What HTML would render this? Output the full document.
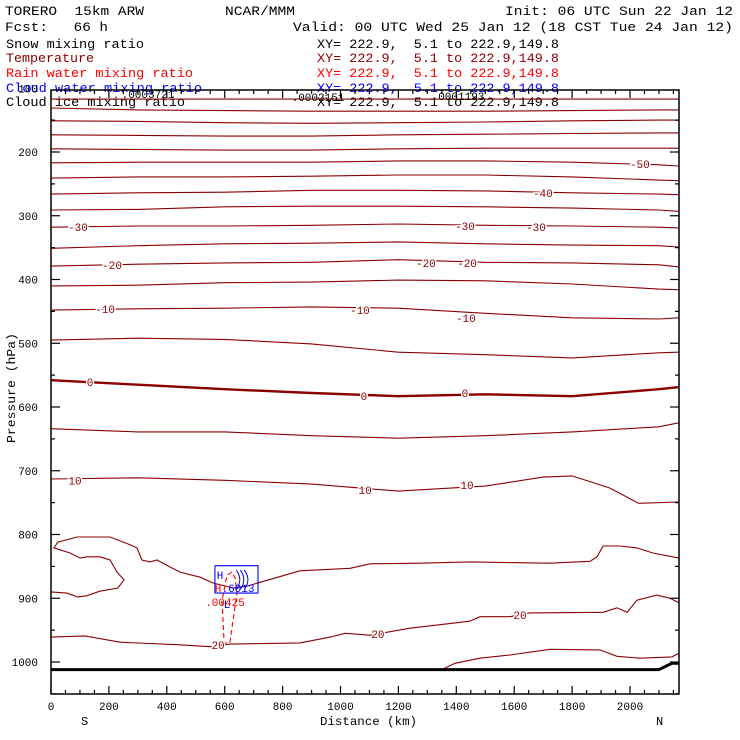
<!DOCTYPE html>
<html><head><meta charset="utf-8"><style>
html,body{margin:0;padding:0;background:#fff;}
svg{display:block;}
text{font-family:"Liberation Mono",monospace;}
</style></head><body>
<svg id="chart" width="740" height="740" viewBox="0 0 740 740" xmlns="http://www.w3.org/2000/svg">
<g font-size="13">
<text x="5" y="15" textLength="139" lengthAdjust="spacingAndGlyphs" xml:space="preserve">TORERO  15km ARW</text>
<text x="225" y="15" textLength="70" lengthAdjust="spacingAndGlyphs">NCAR/MMM</text>
<text x="505" y="15" textLength="228" lengthAdjust="spacingAndGlyphs">Init: 06 UTC Sun 22 Jan 12</text>
<text x="5" y="31" textLength="103" lengthAdjust="spacingAndGlyphs" xml:space="preserve">Fcst:   66 h</text>
<text x="293" y="31" textLength="440" lengthAdjust="spacingAndGlyphs">Valid: 00 UTC Wed 25 Jan 12 (18 CST Tue 24 Jan 12)</text>
</g>
<g font-size="13">
<text x="6" y="48" fill="#000" textLength="138" lengthAdjust="spacingAndGlyphs">Snow mixing ratio</text>
<text x="317" y="48" fill="#000" textLength="242" lengthAdjust="spacingAndGlyphs" xml:space="preserve">XY= 222.9,  5.1 to 222.9,149.8</text>
<text x="6" y="62" fill="#8b0000" textLength="88" lengthAdjust="spacingAndGlyphs">Temperature</text>
<text x="317" y="62" fill="#8b0000" textLength="242" lengthAdjust="spacingAndGlyphs" xml:space="preserve">XY= 222.9,  5.1 to 222.9,149.8</text>
<text x="6" y="77" fill="#ff0000" textLength="187" lengthAdjust="spacingAndGlyphs">Rain water mixing ratio</text>
<text x="317" y="77" fill="#ff0000" textLength="242" lengthAdjust="spacingAndGlyphs" xml:space="preserve">XY= 222.9,  5.1 to 222.9,149.8</text>
<text x="6" y="92" fill="#0000ff" textLength="196" lengthAdjust="spacingAndGlyphs">Cloud water mixing ratio</text>
<text x="317" y="92" fill="#0000ff" textLength="242" lengthAdjust="spacingAndGlyphs" xml:space="preserve">XY= 222.9,  5.1 to 222.9,149.8</text>
<text x="6" y="106" fill="#000" textLength="179" lengthAdjust="spacingAndGlyphs">Cloud ice mixing ratio</text>
<text x="317" y="106" fill="#000" textLength="242" lengthAdjust="spacingAndGlyphs" xml:space="preserve">XY= 222.9,  5.1 to 222.9,149.8</text>
</g>
<g id="plot"></g>
<text x="320" y="725" font-size="12" textLength="97" lengthAdjust="spacingAndGlyphs">Distance (km)</text>
<text x="81" y="725" font-size="12">S</text>
<text x="656" y="725" font-size="12">N</text>
<text transform="translate(15,443) rotate(-90)" font-size="12" textLength="110" lengthAdjust="spacingAndGlyphs">Pressure (hPa)</text>
</svg>
<script>
// ---- data (km along section, pressure hPa) ----
const gridKm = [0, 300, 600, 900, 1200, 1500, 1800, 2100, 2166];
const tempLevels = [-75, -70, -65, -60, -55, -50, -45, -40, -35, -30, -25, -20, -15, -10, -5, 0, 5];
const tempP = [
  [117,117,117,117,117,117,117,117,117],
  [131,134,135,136,136,136,135,134,134],
  [151,152,154,155,154,153,151,150,150],
  [173,174,175,175,173,172,171,170,170],
  [195,196,197,197,195,194,194,194,194],
  [217,216,216,216,214,214,216,220,222],
  [241,239,239,238,236,236,239,244,245],
  [266,264,263,260,260,261,264,266,267],
  [291,290,286,285,285,286,288,291,293],
  [318,316,316,315,313,315,316,318,319],
  [351,347,344,343,341,344,346,347,349],
  [379,376,374,373,369,373,374,377,380],
  [410,409,405,404,401,402,407,415,416],
  [448,446,445,443,445,453,460,462,460],
  [495,492,494,501,514,518,523,515,514],
  [558,565,572,578,583,580,583,572,569],
  [634,639,639,645,649,645,639,631,625]
];
const t10Km = [0,300,600,900,1200,1500,1700,1800,1930,2030,2166];
const t10P  = [713,711,715,721,732,724,710,708,727,751,749];
const t15Km = [0,55,93,124,169,231,252,228,204,169,124,100,66,10,24,90,204,273,297,314,342,366,411,446,515,560,629,677,722,860,1033,1102,1275,1447,1724,1862,1886,1907,1965,2024,2079,2169];
const t15P  = [890,892,898,896,889,884,871,859,840,835,835,837,829,821,812,804,804,816,821,840,843,840,851,859,867,876,884,881,875,857,853,846,845,843,845,842,835,818,818,821,829,837];
const t20Km = [0,117,238,446,549,618,860,964,1016,1102,1240,1447,1482,1585,1654,1907,1955,1990,2024,2093,2138,2169];
const t20P  = [961,959,969,973,976,972,970,961,955,958,947,936,929,929,923,922,915,922,903,895,900,907];
const t25Km = [1350,1395,1482,1585,1724,1896,1955,2034,2145,2169];
const t25P  = [1012,1002,994,989,980,981,991,994,992,986];
const groundKm = [0,2100,2145,2169];
const groundP  = [1012,1012,1002,1002];
const cwKm = [566,715,715,566,566];
const cwP  = [849,849,892,892,849];
const rainKm = [625,608,591,598,618,642,636,625];
const rainP  = [859,864,903,970,970,892,868,859];
const labelText = ["-50","-40","-30","-30","-30","-20","-20","-20","-10","-10","-10","0","0","0","10","10","10","20","20","20"];
const labelKm = [2034,1699,93,1430,1675,211,1295,1437,187,1067,1433,135,1081,1430,83,1085,1437,577,1129,1620];
const labelP  = [219,264,318,316,318,377,374,374,446,448,460,561,583,578,715,730,722,973,956,926];
const yTicks = [100,200,300,400,500,600,700,800,900,1000];
const xTicks = [0,200,400,600,800,1000,1200,1400,1600,1800,2000];

// ---- axes ----
const L=51,R=679,T=90,B=694;
const X = km => L + km*0.2895;
const Y = p => 662 - (1000-p)*0.6375;
const NS="http://www.w3.org/2000/svg";
const plot=document.getElementById('plot');
function mk(tag, attrs, parent){const e=document.createElementNS(NS,tag);for(const k in attrs)e.setAttribute(k,attrs[k]);(parent||plot).appendChild(e);return e;}
function pts(ks,ps){return ks.map((k,i)=>X(k).toFixed(1)+','+Y(ps[i]).toFixed(1)).join(' ');}

tempP.forEach((row,i)=>{
  const w = tempLevels[i]===0 ? 2.4 : 1.1;
  const e=mk('polyline',{points:pts(gridKm,row),fill:'none',stroke:'#8b0000','stroke-width':w});
  
  
});
[[t10Km,t10P,'10'],[t15Km,t15P,'15'],[t20Km,t20P,'20'],[t25Km,t25P,'25']].forEach(c=>{
  const e=mk('polyline',{points:pts(c[0],c[1]),fill:'none',stroke:'#8b0000','stroke-width':1.1});
  
  
});
const g=mk('polyline',{points:pts(groundKm,groundP),fill:'none',stroke:'#000','stroke-width':3});


const rn=mk('polyline',{points:pts(rainKm,rainP),fill:'none',stroke:'#ff0000','stroke-width':1.1,'stroke-dasharray':'5,3'});


const cw=mk('polyline',{points:pts(cwKm,cwP),fill:'none',stroke:'#0000ff','stroke-width':1.1,'stroke-linejoin':'round'});


[0,1,2].forEach(j=>{
  const x0=X(640+j*14), y0=Y(856), y1=Y(886);
  const a=mk('path',{d:`M${x0},${y0} Q${x0+7},${(y0+y1)/2} ${x0},${y1}`,fill:'none',stroke:'#0000ff','stroke-width':1});
  
  
});
labelText.forEach((t,i)=>{
  const e=mk('text',{x:X(labelKm[i]),y:Y(labelP[i])+4,'text-anchor':'middle','font-size':11,fill:'#8b0000',stroke:'#fff','stroke-width':3,'paint-order':'stroke'});
  e.textContent=t;
  
  
});
[[220,579,'H','#0000ff'],[218,592,'H','#ff0000'],[238,592,'.6013','#0000ff'],[225,606,'.00425','#ff0000'],[227,608,'L','#0000ff'],
 [148,98,'.0003721','#000'],[318,101,'.0002151','#000'],[458,100,'.0001193','#000']].forEach(m=>{
  const e=mk('text',{x:m[0],y:m[1],'text-anchor':'middle','font-size':11,fill:m[3]});
  e.textContent=m[2];
  
  
});
const fr=mk('rect',{x:L,y:T,width:R-L,height:B-T,fill:'none',stroke:'#000','stroke-width':1.5});


for(let p=150;p<=1050;p+=50){
  const major = p%100===0, len = major?9:4;
  const y=Y(p);
  mk('line',{x1:L,x2:L+len,y1:y,y2:y,stroke:'#000','stroke-width':1.2});
  mk('line',{x1:R,x2:R-len,y1:y,y2:y,stroke:'#000','stroke-width':1.2});
}
yTicks.forEach(p=>{
  const e=mk('text',{x:38,y:Y(p)+4,'text-anchor':'end','font-size':11});
  e.textContent=p;
  
  
});
for(let k=0;k<=2150;k+=50){
  const len = k%200===0 ? 8 : 4, x=X(k);
  mk('line',{x1:x,x2:x,y1:B,y2:B-len,stroke:'#000','stroke-width':1.2});
  mk('line',{x1:x,x2:x,y1:T,y2:T+len,stroke:'#000','stroke-width':1.2});
}
xTicks.forEach(k=>{
  const e=mk('text',{x:X(k),y:710,'text-anchor':'middle','font-size':11});
  e.textContent=k;
  
  
});
</script>
</body></html>
